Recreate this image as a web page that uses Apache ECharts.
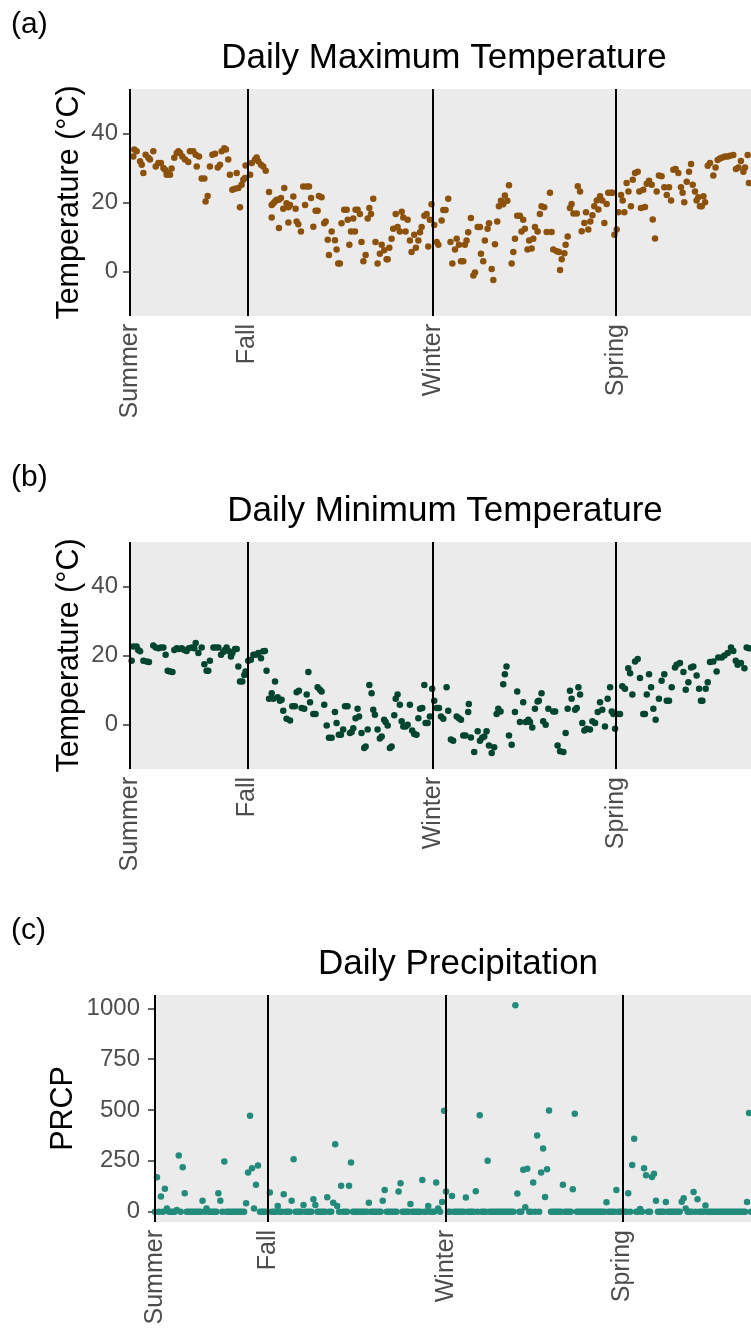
<!DOCTYPE html>
<html><head><meta charset="utf-8">
<script src="https://cdn.jsdelivr.net/npm/echarts@6/dist/echarts.min.js"></script>
<style>html,body{margin:0;padding:0;background:#fff}#c{width:751px;height:1336px}</style>
</head><body><div id="c"></div>
<script>
// Season boundaries (day index from the start of the series) and labels
const seasonDays = [0, 57, 147, 236];
const seasonNames = ['Summer', 'Fall', 'Winter', 'Spring'];
const tempTicks = [0, 20, 40];
const prcpTicks = [0, 250, 500, 750, 1000];
const panelTags = ['(a)', '(b)', '(c)'];
const panelTitles = ['Daily Maximum Temperature', 'Daily Minimum Temperature', 'Daily Precipitation'];
const yNames = ['Temperature (°C)', 'Temperature (°C)', 'PRCP'];

// Daily maximum temperature [day, °C]
const tmax = [
[1.6,33.3],[2.1,35.3],[3.2,34.8],[4.9,31.9],[5.7,30.9],[6.5,28.5],[7.6,33.8],[8.9,32.9],[9.7,32.4],[11.3,34.8],
[12.5,30.4],[13.8,31.4],[15,31.4],[16.2,30],[17,29.5],[17.8,28],[18.6,28.5],[19.4,28],[20.2,29.8],[21.5,32.9],
[22.7,34.3],[23.5,34.8],[24.3,34.3],[25.4,33.3],[26.7,32.4],[28.3,31.7],[29.1,34.8],[30.7,34.8],[31.9,33.8],[32.4,30.4],
[33.5,33.3],[34.8,26.9],[36.1,26.9],[36.7,20.3],[37.7,21.9],[38.8,30.4],[40,33.8],[41.3,34.1],[42.6,30.1],[43.7,30.9],
[44.5,34.8],[45.8,35.7],[46.6,35.3],[47.7,32.4],[48.5,28],[49.7,23.7],[51,24],[51.8,28.5],[52.6,24.2],[53.4,18.6],
[54.2,25.1],[55,26.6],[55.8,27.1],[56.1,30.7],
[58.3,28],[59.1,31.4],[60.7,32.4],[61.5,33],[62.3,31.9],[63.6,30.9],[64.7,30.4],[65.9,29.2],
[67.5,23],[68.8,19.3],[68.8,15.7],[69.6,19.8],[70.4,20.3],[71.2,20.8],[72.3,20.8],[72.3,12.6],[73.3,21.3],[74.4,18.2],
[74.9,24.2],[76,19.8],[76.9,18.6],[76.9,14.2],[77.7,19.3],[79.3,21.7],[80.4,18.2],[80.9,14.5],[81.7,13.7],[83,11.6],
[84.1,24.6],[85,19.3],[85.8,24.6],[86.9,24.6],[87.9,21.3],[89,13],[90.1,17.6],[91.1,17.6],[91.7,21.9],[93,21.5],
[94.3,14],[95,14.5],[96,9.2],[96.6,4.8],[97.9,11.6],
[99.5,9.1],[100.3,6.4],[101.1,2.4],[101.9,2.4],[102.7,14],[104,17.9],[105.2,17.9],[105.7,15],[106.5,7.8],[107.3,11.6],
[108.4,15.4],[109.2,11.6],[109.5,17.9],[110.5,17.9],[111.6,16.7],[112.4,8.6],[113.3,3],[114.4,4.8],[115.4,15.4],[116.2,18.4],
[117,16.7],[118.1,21.1],[119.2,8.6],[120.2,2.4],[121.3,5.2],[122.2,7.8],[123.4,6.2],[124.6,3.6],[125.1,3.6],[125.9,6.9],
[127,9.5],[127.8,12.4],[129,16.7],[129.9,12.9],[131,11.6],[131.9,17.3],[132.7,15.7],[133.8,11.6],[134.8,15],[135.9,9],
[136.7,5.7],[138,10.7],[138.8,6.9],[140,9],[140.8,11.4],[141.6,12.9],[142.9,16.2],[144,16.7],[144.8,7.3],[145.6,15],
[146.4,19.5],[147.7,13.5],[148.9,8.6],[149.7,7.8],[151.3,14.8],[152.1,17.8],[153.2,17.8],[154.5,21.1],[155.6,8.6],[156.5,2.4],
[157.8,6.4],[158.6,9.5],[159.7,7.8],[160.7,3],[161.8,3],[162.6,7.8],[163.4,9],[164.2,11.4],[165.5,15.5],[166.7,-1.1],
[167.5,-0.2],[168.8,12.9],[169.9,12.9],[170.4,5.2],[171.5,3],[172.3,9],[173.6,12.4],[174.3,14],[175.6,0.8],[176.4,-2.4],
[177.2,7.9],[178.3,14.5],[179.1,18.9],[180.1,20.5],[181.2,19.5],[182,22],[183.2,20.5],[184,25],[185.3,2.4],[186.1,5.7],
[186.9,9.5],[188,16.2],[189.3,16.2],[190.1,11.6],[190.9,15],[191.7,12.4],[193,6.4],[193.8,9],[195,6.7],[195.8,9.5],
[196.6,12.9],[197.9,11.6],[199,16.7],[199.8,18.9],[201.1,18.6],
[202.3,11.5],[203.9,22.8],[204.7,11.5],[205.5,6.4],[207.2,5.9],[208.3,5.7],[208.8,0.5],[209.6,3.6],[210.9,5.3],[211.5,7.8],
[212.5,10.2],[213.6,18.4],[214.4,19.6],[215.3,16.8],[216.9,16.8],[217.4,24.7],[218.5,23.2],[219.3,11.7],[220.6,14.1],[221.4,17.2],
[222.5,12.2],[223.5,14.5],[224.5,16.3],[225.4,18.9],[226.6,20.6],[227.4,18],[228.2,21.8],[229.3,20.6],[230.3,14.1],[231.4,19.6],
[232.2,22.8],[233.5,22.8],[234.3,22.8],[235.2,10.7],[236.3,12.2],[237.1,17.2],[238.4,22.2],[239.2,20.6],[240,17.2],[241.1,25.6],
[242,23.2],[243.2,18.9],[244.1,26.6],[245.2,28.5],[246.5,28.9],[247.3,23.2],[248.1,18.4],[249.2,23.7],[250,18.7],[250.9,25.4],
[252,26.3],[253.3,25.1],[253.8,15.1],[254.9,9.6],[255.7,23.2],[256.8,27.8],[258.1,27.6],[259.4,24.4],[260.6,22.2],[261.7,24.4],
[262.7,20.6],[263.8,29.5],[264.9,29.7],[266.2,28.5],[267.5,24.4],[268.3,22.8],[269.1,20.1],[270.3,26],[271.4,28.9],[272.4,31.1],
[273.2,25.1],[274.3,23.2],[275.1,20.6],[275.9,21.5],[276.7,18.9],[277.6,18.9],[278.4,21.8],[279.2,20.1],[280.5,30.6],[281.6,31.4],
[283.2,27.8],[284.3,30.1],[285.3,32.3],[286.4,32.7],[287.6,33],[288.9,33.3],[290.2,33.3],[291.3,33.5],[292.9,33.7],[294.2,29.7],
[295.4,30.1],[296.6,32],[297.8,28.9],[298.6,30.1],[299.9,33.7],[300.5,25.6]
];

// Daily minimum temperature [day, °C]
const tmin = [
[0.8,18.5],[1.6,22.6],[3.2,22.6],[4,21.6],[4.9,21.2],[6.5,18.5],[8.1,18.3],[9.2,18.1],[11.3,22.9],[12.5,22.3],
[13.8,22.1],[15,22.3],[16.2,22.3],[17.3,20.2],[18.3,15.6],[19.4,15.4],[20.6,15.2],[21.5,21.6],[22.7,22.1],[23.8,21.9],
[25.1,22.1],[26.4,21.6],[27.5,21.3],[28.6,22.1],[29.9,22.3],[31.2,22.1],[31.9,23.6],[33.2,20.7],[34.8,22.3],[36.1,17.5],
[37.2,15.6],[38,15.6],[38.8,18.5],[40.5,22.3],[41.6,22.3],[42.9,22.3],[44.2,20.2],[45.3,21],[46.1,21.6],[46.9,22.3],
[48.1,21.2],[49,19.7],[49.7,20.7],[51,21.9],[51.8,21.9],[52.6,16.8],[53.4,12.5],[54.5,12.5],[55.5,14.4],[56.1,15.4],
[57.4,18.5],[58.7,18.8],[59.9,20.2],[61,20.2],[62.3,20.7],[63.6,19.2],[64.7,21.2],[65.5,21.3],[66.3,15.6],[67.5,7.5],
[68.8,9.1],[69.6,7.5],[70.4,12.5],[71.7,7.9],[72.8,6.9],[73.6,7.2],[74.4,4],[76,1.7],[77.7,1.2],[78.8,5.3],
[80.1,5.3],[80.9,9.4],[82,9.8],[83.3,4.8],[84.6,4.6],[85.8,8.7],[86.6,15.2],[87.4,6.5],[89,3.1],[90.1,3.1],
[91.1,10.8],[92.2,10.1],[93,9.6],[94.3,5.8],[95.5,-0.2],[96.6,-3.8],[97.9,-3.8],
[99.5,3.7],[100.3,0.5],[101.4,-2.9],[102.4,-2.9],[103.5,-1.4],[104.4,5.3],[105.6,5.3],[106.8,-2.4],[107.6,-2.1],[108.4,-1],
[109.5,1.9],[110.5,4.6],[111.2,2.4],[112.4,-2.4],[113.7,-6.7],[114.4,-6.3],[115.4,-1.4],[116.2,11.5],[117.3,9.1],[118.1,4.3],
[118.9,2.9],[120.2,-1.4],[121.3,-4],[122.2,-3.4],[123.4,1.4],[124.1,0.8],[125.1,-0.2],[126.2,-6.7],[127,-6.3],[128.3,2.7],
[129,7.5],[129.9,8.7],[131,5.8],[131.9,1],[132.7,-0.5],[133.8,-0.5],[134.8,0],[135.9,5.8],[137,-1.7],[138,-2.7],
[139.1,-2.9],[140,1.9],[140.8,4.6],[141.9,4.8],[142.9,11.5],[143.5,0.5],[144.5,0.5],[145.6,2.4],[146.7,10.4],[147.7,6.9],
[148.9,4.8],[150,4.8],[151,2.4],[152.1,1.7],[153.7,10.8],[154.5,4],[155.8,-4.3],[156.9,-4.6],[158.6,2.4],[159.7,1.9],
[160.7,1.4],[161.8,-3.1],[162.9,-3.1],[164.2,3.7],[164.5,6],[165.5,-3.7],[167.1,-7.9],[168.8,-1.9],[169.9,-4.6],[171,-3.8],
[172,-3.4],[173.1,-1.9],[174.3,-6],[175.6,-8.2],[176.8,-6.5],[178,3.1],[178.8,4.6],[179.9,3.8],[181.2,11.7],[182,14.6],
[182.8,16.8],[184,-3.1],[185.3,-5.8],[186.9,3.7],[188,9.6],[189.3,0.8],[190.9,6.5],[192.1,0.8],[193.4,1.4],[194.2,0.8],
[195.3,-0.8],[196.6,4.6],[197.9,6.7],[198.5,6.9],[199.8,9.1],[200.6,1],[201.8,0],[203.1,4.6],
[205.5,3.8],[206.4,3.8],[207.6,-6],[208.8,-7.7],[210.4,-7.9],[211.5,-2.4],[212.5,4.6],[213.6,9.8],[214.4,7.5],[216.1,4.3],
[216.9,4.8],[217.7,10.8],[218.5,8.7],[219.6,0.5],[220.6,-1.7],[221.7,-1.2],[223.3,-1.4],[224.5,1],[225.8,0.5],[227.1,3.7],
[228.2,6.5],[229.3,4.3],[230.6,-0.5],[231.9,7.5],[233.1,10.8],[233.9,3.8],[234.7,3.1],[235.5,-1.2],[236.8,3.1],[237.9,3.1],
[239,11.1],[240.3,10.4],[241.9,16.3],[242.8,14.9],[243.9,8.7],[245.2,18.3],[246.5,19],[247.6,13.5],[249.2,3.1],[250,3.1],
[250.9,8.7],[252,14.6],[253,10.8],[254.1,4.6],[255.2,1.4],[256.8,7.5],[258.1,12.7],[259.4,14.6],[260.6,6.9],[261.7,6.9],
[263,10.8],[264.6,16.5],[265.4,17.3],[267,17.8],[268.7,15.2],[269.8,10.1],[271.1,12.3],[272.4,16.5],[273.5,16.8],[275.1,14.2],
[276.3,10.4],[277.2,6.9],[277.9,6.9],[279.5,10.4],[280.5,12.3],[281.6,18.1],[283.2,18.3],[284.8,15.4],[285.6,19.4],[287.3,19.4],
[288.6,20],[290.2,20.7],[291.8,22.3],[292.9,21.3],[294.1,18.5],[295,17.3],[296.6,17.8],[298.3,16.3],[299.4,22.3],[300.5,22.1]
];

// Daily precipitation, one value per day starting at day 0
const prcp = [
0,169,0,74,0,113,16,0,0,0, 0,8,276,0,219,90,0,0,0,0,
0,0,0,0,53,0,16,0,0,0, 0,0,90,53,0,247,0,0,0,0,
0,0,0,0,0,0,41,192,472,214, 16,132,227,0,0,0,0,0,94,0,
0,0,28,0,0,86,0,0,0,53, 258,0,0,0,0,33,0,0,0,0,
61,33,0,0,0,0,0,71,0,0, 44,332,28,0,127,0,0,0,127,242,
0,0,0,0,0,0,0,0,44,0, 0,0,0,0,0,54,107,0,0,0,
0,0,0,99,140,0,0,0,0,38, 0,0,0,0,0,156,0,0,28,0,
0,0,143,16,0,48,497,99,0,0, 77,0,0,0,0,0,0,69,0,0,
0,0,100,0,474,0,0,0,250,0, 0,0,0,0,0,0,0,0,0,0,
0,0,1015,89,0,0,206,21,211,0, 0,143,0,375,0,192,311,72,209,498,
0,0,0,0,0,0,132,0,0,0, 0,110,482,0,0,0,0,0,0,0,
0,0,0,0,0,0,0,0,46,0, 0,0,0,107,0,0,0,0,0,90,
0,230,359,0,0,13,0,214,179,0, 0,171,186,53,0,0,0,0,48,0,
0,0,0,0,0,0,49,66,16,0, 0,0,97,0,61,0,0,0,30,0,
0,0,0,0,0,0,0,0,0,0, 0,0,0,0,0,0,0,0,0,48,
485,0,0
];

const FONT = '"Liberation Sans", Arial, Helvetica, sans-serif';
const colors = ['#8C510A', '#00452F', '#238B7B'];
const grids = [
  {left: 130, top: 89, right: 0, height: 227},
  {left: 130, top: 542, right: 0, height: 227},
  {left: 155, top: 995, right: 0, height: 227}
];
const xMaxes = [301.5, 301.5, 301];
const yRanges = [[-12.8, 52.8], [-12.8, 52.8], [-51, 1066]];
const yTicks = [tempTicks, tempTicks, prcpTicks];
const nameGaps = [45, 45, 76];
const yLabelMargins = [12, 12, 15];
const titleCenters = [439, 440, 453];
const dataSets = [tmax, tmin, prcp.map((v, i) => [i, v])];

function seasonLabel(v) {
  let best = 0;
  for (let i = 1; i < seasonDays.length; i++) {
    if (Math.abs(seasonDays[i] - v) < Math.abs(seasonDays[best] - v)) best = i;
  }
  return seasonNames[best];
}

const titles = [];
for (let i = 0; i < 3; i++) {
  titles.push({text: panelTags[i], left: 6, top: 5 + 453 * i,
    textStyle: {fontSize: 30, fontWeight: 'normal', color: '#000', fontFamily: FONT}});
  titles.push({text: panelTitles[i], left: titleCenters[i], textAlign: 'center', top: 36 + 453 * i,
    textStyle: {fontSize: 35, fontWeight: 'normal', color: '#000', fontFamily: FONT}});
}

const option = {
  animation: false,
  backgroundColor: '#ffffff',
  title: titles,
  grid: grids.map(g => Object.assign({show: true, backgroundColor: '#EBEBEB', borderWidth: 0}, g)),
  xAxis: [0, 1, 2].map(i => ({
    gridIndex: i, type: 'value', min: 0, max: xMaxes[i],
    axisLine: {show: false}, splitLine: {show: false},
    axisTick: {show: true, customValues: seasonDays, length: 7, lineStyle: {color: '#000', width: 2}},
    axisLabel: {customValues: seasonDays, formatter: seasonLabel, rotate: 90, fontSize: 25,
      color: '#4D4D4D', fontFamily: FONT, margin: 8}
  })),
  yAxis: [0, 1, 2].map(i => ({
    gridIndex: i, type: 'value', min: yRanges[i][0], max: yRanges[i][1],
    name: yNames[i], nameLocation: 'middle', nameGap: nameGaps[i], nameMoveOverlap: false,
    nameTextStyle: {fontSize: 30.5, color: '#000', fontFamily: FONT},
    axisLine: {show: false}, splitLine: {show: false},
    axisTick: {show: true, customValues: yTicks[i], length: 7, lineStyle: {color: '#333', width: 1.5}},
    axisLabel: {customValues: yTicks[i], formatter: v => String(Math.round(v)), fontSize: 24,
      color: '#4D4D4D', fontFamily: FONT, margin: yLabelMargins[i]}
  })),
  series: [0, 1, 2].map(i => ({
    type: 'scatter', xAxisIndex: i, yAxisIndex: i,
    data: dataSets[i], symbolSize: 6.5,
    itemStyle: {color: colors[i], opacity: 1},
    emphasis: {disabled: true},
    markLine: {
      silent: true, symbol: ['none', 'none'], label: {show: false},
      lineStyle: {color: '#000', width: 2, type: 'solid'},
      data: seasonDays.map(d => ({xAxis: d}))
    }
  }))
};

const chart = echarts.init(document.getElementById('c'), null, {renderer: 'canvas'});
chart.setOption(option);
</script>
</body></html>
